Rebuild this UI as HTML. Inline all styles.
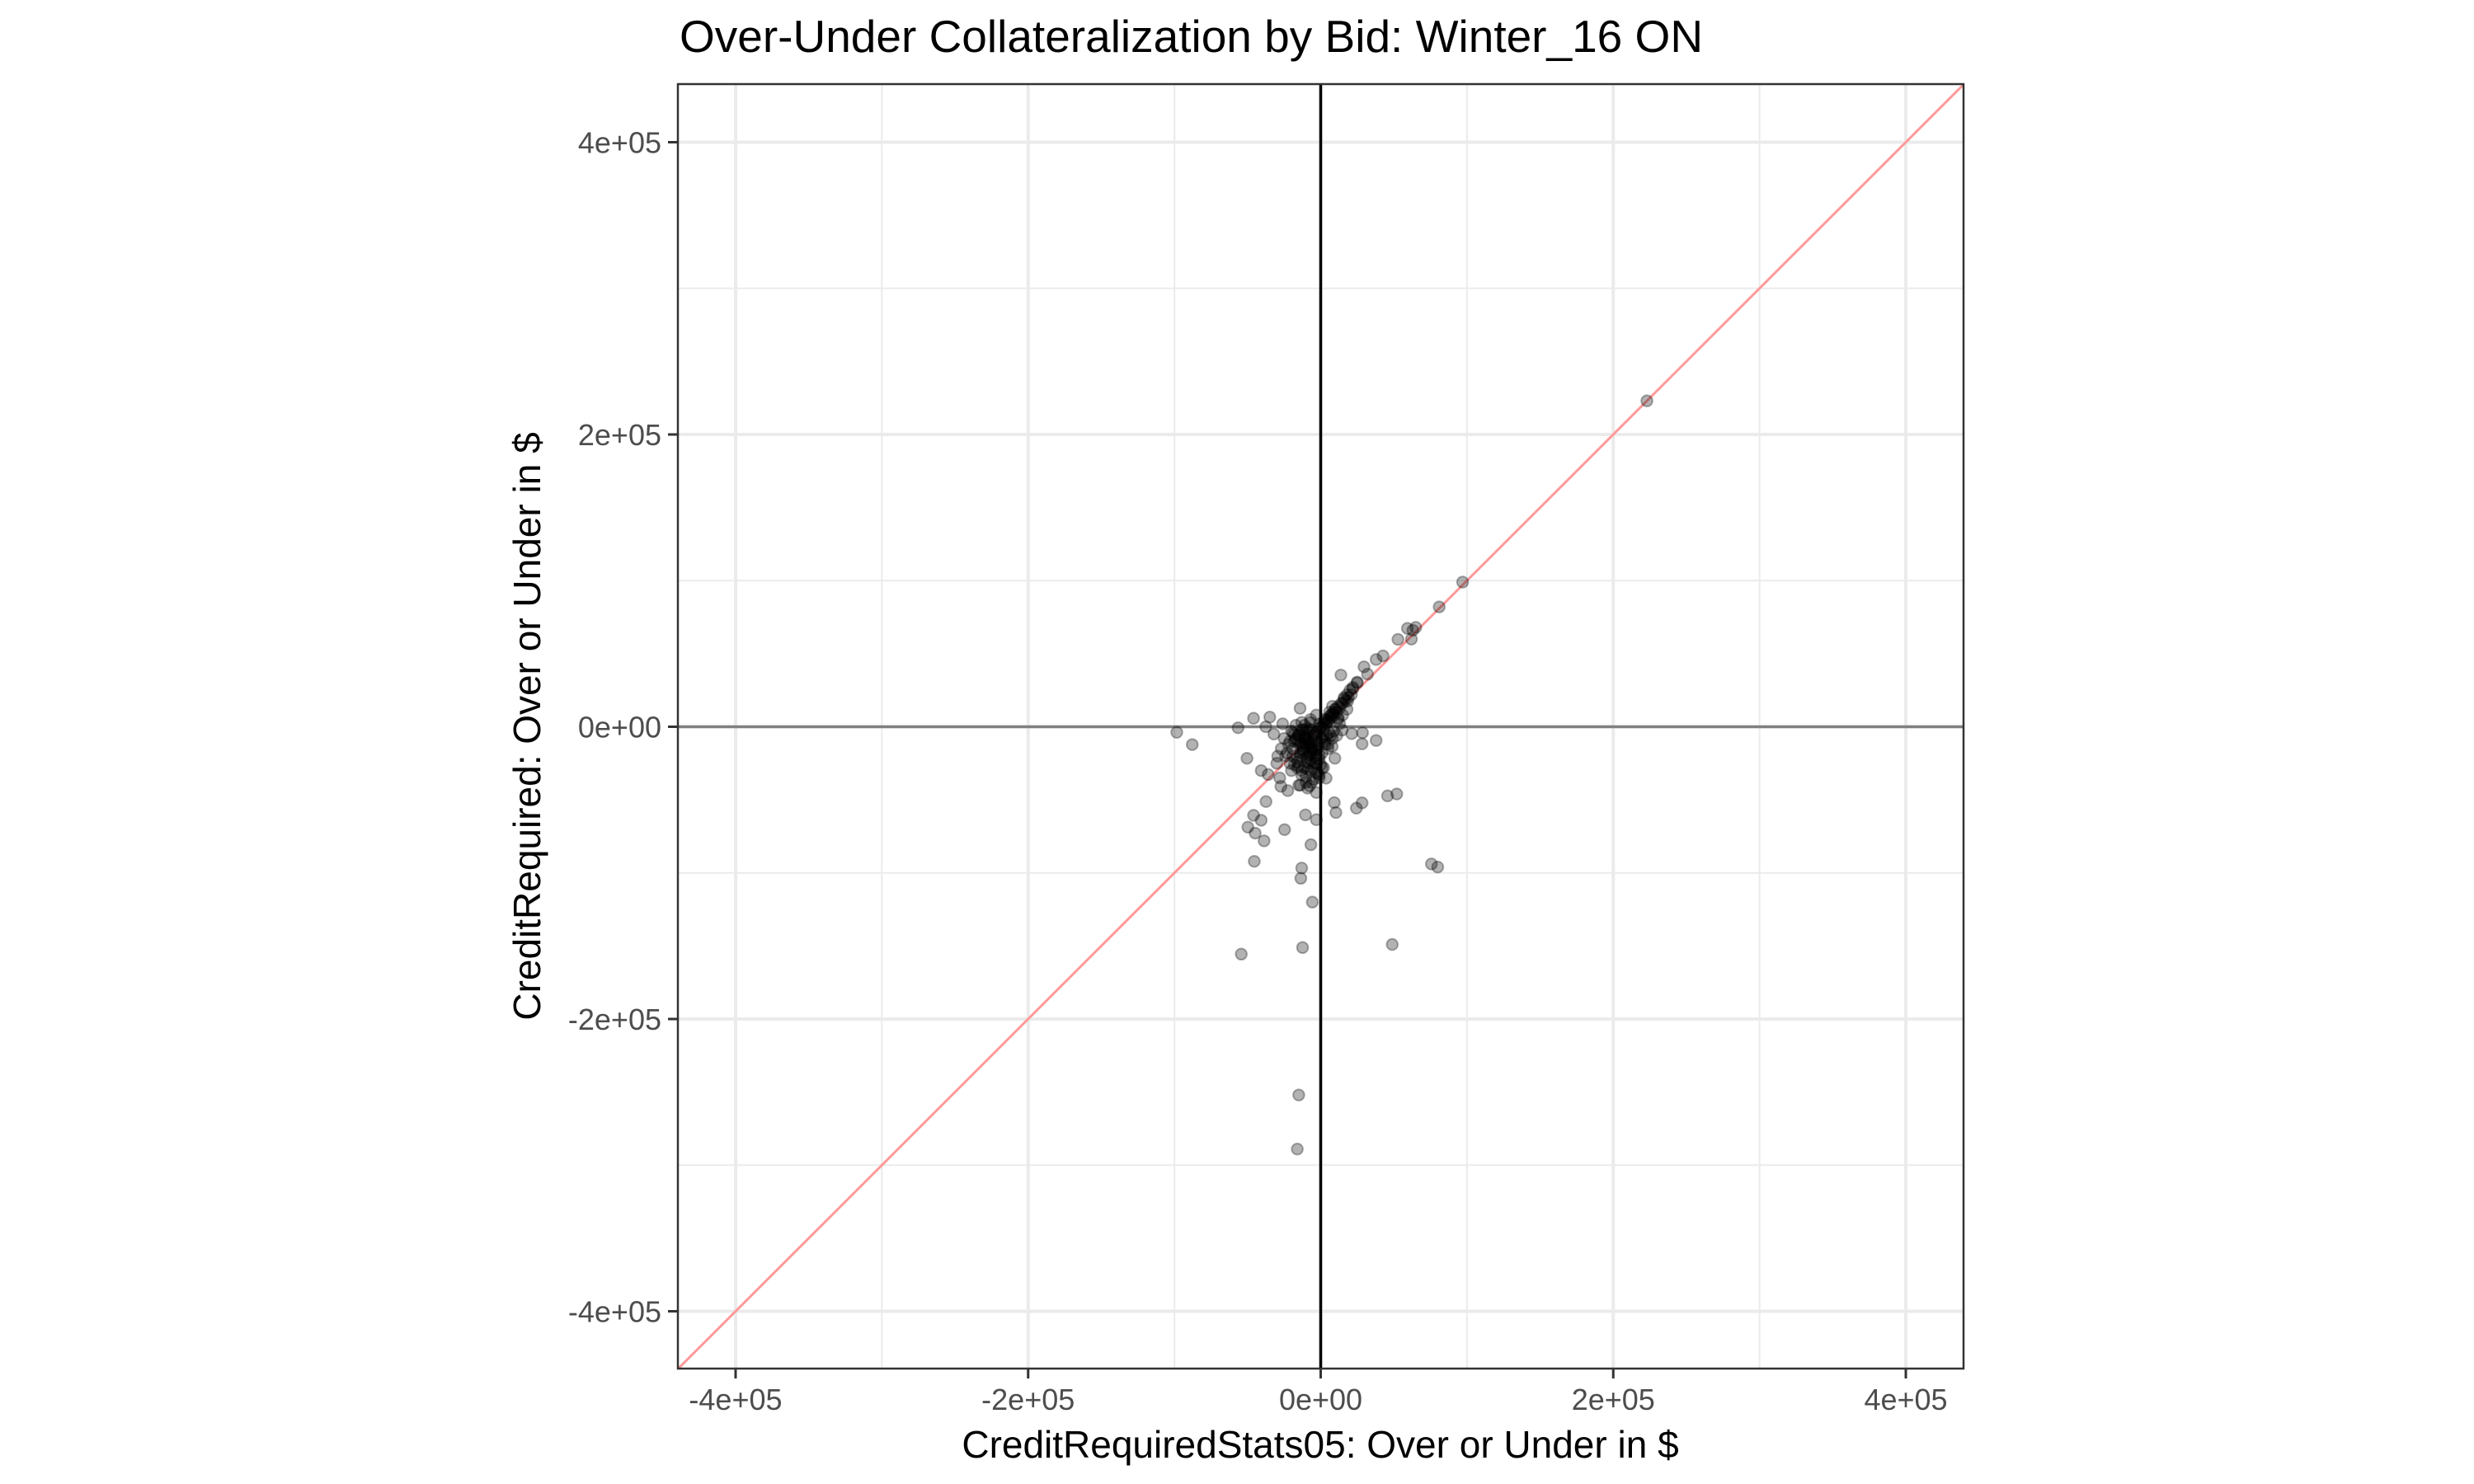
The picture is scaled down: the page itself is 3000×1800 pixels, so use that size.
<!DOCTYPE html>
<html><head><meta charset="utf-8"><style>
html,body{margin:0;padding:0;background:#fff;}
svg{display:block;font-family:"Liberation Sans",Arial,sans-serif;}
</style></head><body>
<svg id="chart" width="3000" height="1800" viewBox="0 0 3000 1800">
<rect x="0" y="0" width="3000" height="1800" fill="#fff"/>
<text x="824" y="63" font-size="55" fill="#000">Over-Under Collateralization by Bid: Winter_16 ON</text>
<rect x="822" y="102" width="1559" height="1558" fill="#fff"/>
<g id="grid"></g>
<g id="refs"></g>
<g id="pts"></g>
<rect x="822" y="102" width="1559" height="1558" fill="none" stroke="#333" stroke-width="2.5"/>
<g id="axes"></g>
<text x="1601" y="1768" font-size="46" text-anchor="middle" fill="#000">CreditRequiredStats05: Over or Under in $</text>
<text transform="translate(655,881) rotate(-90)" font-size="46" text-anchor="middle" fill="#000">CreditRequired: Over or Under in $</text>
</svg>
<script>
const majorTicks = [-400000, -200000, 0, 200000, 400000];
const minorTicks = [-300000, -100000, 100000, 300000];
const tickLabels = ["-4e+05", "-2e+05", "0e+00", "2e+05", "4e+05"];
// points in thousands of $ : [x, y]
const xVals = [-98.4,-87.8,-56.5,-45.9,-34.8,-37.5,-14.1,-50.4,-40.7,-35.9,-29.4,-27.2,-22.5,3.7,9.7,7.8,-7.6,-37.4,-45.9,-40.7,-49.8,-44.8,-38.7,-24.7,-10.4,-3,9.3,10.4,24.4,28.3,45.7,75.7,-6.7,-13,-13.6,-5.7,-45.4,-54.3,-12.4,48.9,13.8,21.2,28.6,28.3,37.9,14.7,11.9,59.3,52.8,42.6,37.9,29.6,32,24.9,22,18.4,16,223,97,81,63,65,62,-15,-16,80,52,
-5,-8,-10,-12,-15,-18,-20,-22,-6,-9,-14,-3,-11,-16,-19,-4,-2,-1,3,5,7,9,10,12,14,16,18,20,22,25,2,4,6,8,3,1,-25,-27,-24,-13,-7,-3,-17,-21,-13,-7,-1,-6,2,5,11,13,-10,-12,-8,-5,0,-30,-28,-32,-26,-20,-15,-10,6,8,4,0,-2,-4,-11,-14,-16,15,18,12,-3,-9,
-1,-3,-5,-7,-9,-11,-13,-15,-17,-19,-2,-4,-6,-8,-10,-12,-14,-16,-18,-1,-3,-5,-7,-9,-11,-13,-15,-2,-4,-6,-8,-10,-12,-14,-1,-3,-5,-7,-9,-11,1,2,3,4,5,6,7,8,9,10,11,13,15,17,19,21,1,3,5,7,9,-21,-23,-19,-17,-15,-13,-11,-9,-7,-5,-3,-1,0,1,2,-6,-10,-14,-18,-8];
const yVals = [-3.8,-12.2,-0.7,5.8,6.6,0,12.6,-21.6,-30,-32.7,-20.1,-40.8,-43.7,-35.2,-21.6,-13.5,-40.5,-51.2,-60.6,-64,-68.7,-72.8,-78.1,-70.4,-60.3,-63.6,-51.9,-58.7,-55.7,-52.1,-47.3,-93.9,-80.7,-96.7,-103.7,-120,-92.1,-155.6,-151.1,-149,35.4,-4.7,-4.1,-11.7,-9.4,-2.3,5.2,67.3,59.8,48.5,46,41,36,30.6,26,17.5,20,223,99,82,66,68,60,-252,-289,-96,-46,
-5,-3,-8,-2,-5,-10,-3,-12,-15,-20,-18,-25,-28,-22,-15,-10,-3,2,5,4,8,10,12,14,16,19,22,25,27,30,-2,-6,-4,-8,-12,-18,-8,-15,-20,3,5,8,1,-25,-33,-30,-35,-38,-28,-15,-6,2,-12,-15,-25,-18,-8,-25,-35,-5,2,-30,-40,-38,10,14,2,0,-12,-6,-5,-11,-28,8,12,6,-45,-42,
-1,-4,-6,-2,-9,-7,-12,-6,-9,-4,-14,-16,-11,-19,-21,-17,-13,-24,-26,-20,-22,-28,-18,-24,-8,-30,-27,-32,-25,-14,-10,-3,-16,-20,-33,-31,-36,-23,-29,-11,0,3,2,5,4,7,6,9,8,12,10,13,16,18,20,22,-8,-10,-12,-6,-3,-10,-18,-20,-8,-6,-2,1,-1,3,-14,-20,-22,-26,-28,-7,-16,-34,-40,-5,-12];
const NS="http://www.w3.org/2000/svg";
const X0=1601.5, Y0=881.5, SX=0.0017738, SY=0.0017725;
function X(v){return X0+v*SX;}
function Y(v){return Y0-v*SY;}
function mk(tag,attrs,parent){const e=document.createElementNS(NS,tag);for(const k in attrs)e.setAttribute(k,attrs[k]);parent.appendChild(e);return e;}
const grid=document.getElementById('grid'),refs=document.getElementById('refs'),pts=document.getElementById('pts'),axes=document.getElementById('axes');
const L=822,R=2381,T=102,B=1660;
minorTicks.forEach(t=>{
  let l=mk('line',{x1:X(t),x2:X(t),y1:T,y2:B,stroke:'#ebebeb','stroke-width':2},grid);
  
  
  l=mk('line',{x1:L,x2:R,y1:Y(t),y2:Y(t),stroke:'#ebebeb','stroke-width':2},grid);
  
  
});
majorTicks.forEach((t,i)=>{
  let l=mk('line',{x1:X(t),x2:X(t),y1:T,y2:B,stroke:'#ebebeb','stroke-width':4},grid);
  
  
  l=mk('line',{x1:L,x2:R,y1:Y(t),y2:Y(t),stroke:'#ebebeb','stroke-width':4},grid);
  
  
  l=mk('line',{x1:X(t),x2:X(t),y1:B,y2:B+12,stroke:'#333','stroke-width':3},axes);
  
  
  l=mk('line',{x1:L-12,x2:L,y1:Y(t),y2:Y(t),stroke:'#333','stroke-width':3},axes);
  
  
  let tx=mk('text',{x:X(t),y:1710,'font-size':36,'text-anchor':'middle',fill:'#4d4d4d'},axes);
  tx.textContent=tickLabels[i];
  
  
  tx=mk('text',{x:L-20,y:Y(t)+13,'font-size':36,'text-anchor':'end',fill:'#4d4d4d'},axes);
  tx.textContent=tickLabels[i];
  
  
});
let r=mk('line',{x1:X(0),x2:X(0),y1:T,y2:B,stroke:'#000','stroke-width':3.5},refs);


r=mk('line',{x1:L,x2:R,y1:Y(0),y2:Y(0),stroke:'#808080','stroke-width':3.5},refs);


const lo=-439500, hi=439500;
r=mk('line',{x1:X(lo),y1:Y(lo),x2:X(hi),y2:Y(hi),stroke:'#ff9999','stroke-width':3},refs);


for(let i=0;i<xVals.length;i++){
  const c=mk('circle',{cx:X(xVals[i]*1000),cy:Y(yVals[i]*1000),r:6.8,fill:'#000','fill-opacity':0.3,stroke:'#000','stroke-opacity':0.3,'stroke-width':2},pts);
  
  
}
</script>
</body></html>
